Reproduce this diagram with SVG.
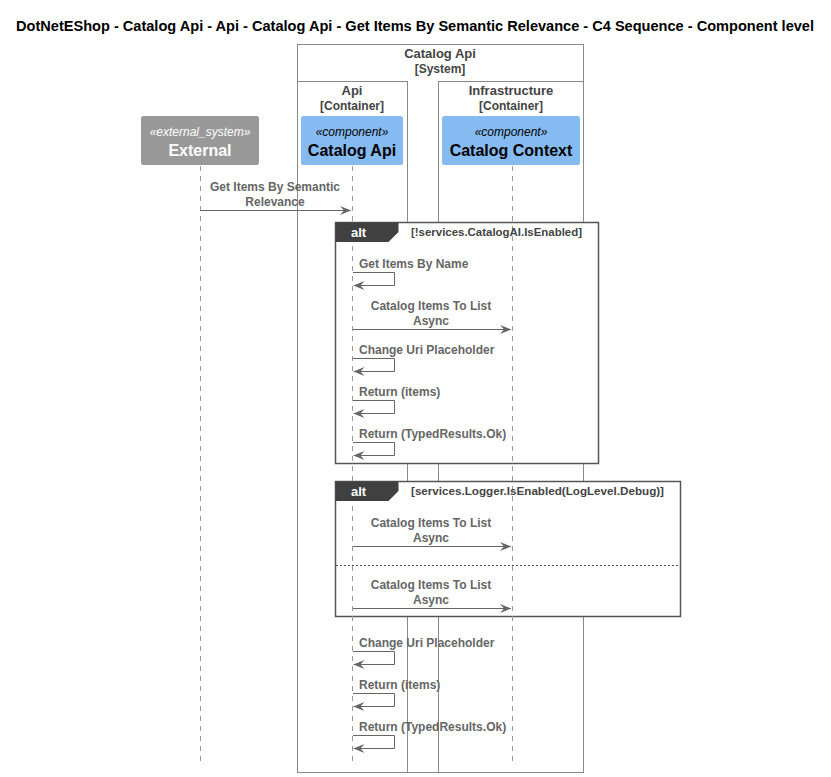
<svg xmlns="http://www.w3.org/2000/svg" width="831" height="777" viewBox="0 0 831 777">
<defs>
<style>
text{font-family:"Liberation Sans",Arial,sans-serif;}
.title{font-size:14px;font-weight:bold;fill:#000;}
.bnd{fill:none;stroke:#8a8a8a;stroke-width:1;}
.bl{font-size:12px;font-weight:bold;fill:#444;text-anchor:middle;}
.bl1{font-size:13px;}
.st{font-size:12px;font-style:italic;text-anchor:middle;}
.nm{font-size:16px;font-weight:bold;text-anchor:middle;}
.life{stroke:#9a9a9a;stroke-width:1;stroke-dasharray:5,5;fill:none;}
.msg{stroke:#666;stroke-width:1;fill:none;}
.ml{font-size:12px;font-weight:bold;fill:#666;}
.mc{text-anchor:middle;}
.frame{fill:#fff;stroke:#555;stroke-width:1.5;}
.tab{fill:#404040;}
.alt{font-size:13px;font-weight:bold;fill:#fff;}
.cond{font-size:11px;font-weight:bold;fill:#444;}
</style>
<marker id="ah" markerWidth="11" markerHeight="9" refX="11" refY="4.5" orient="auto" markerUnits="userSpaceOnUse">
<path d="M0,0 L11,4.5 L0,9 L4,4.5 Z" fill="#666"/>
</marker>
</defs>
<rect width="831" height="777" fill="#fff"/>
<text class="title" x="16" y="31" textLength="798" lengthAdjust="spacingAndGlyphs">DotNetEShop - Catalog Api - Api - Catalog Api - Get Items By Semantic Relevance - C4 Sequence - Component level</text>

<g id="boundary-system">
<rect class="bnd" x="297.5" y="44.5" width="286" height="728"/>
<text class="bl bl1" x="440" y="58">Catalog Api</text>
<text class="bl" x="440" y="73">[System]</text>
</g>
<g id="boundary-api">
<rect class="bnd" x="297.5" y="81.5" width="110" height="691"/>
<text class="bl bl1" x="352" y="95">Api</text>
<text class="bl" x="352" y="110">[Container]</text>
</g>
<g id="boundary-infrastructure">
<rect class="bnd" x="438.5" y="81.5" width="145" height="691"/>
<text class="bl bl1" x="511" y="95">Infrastructure</text>
<text class="bl" x="511" y="110">[Container]</text>
</g>

<g id="frame-bodies">
<rect class="frame" x="335.5" y="222.5" width="263" height="241"/>
<rect class="frame" x="335.5" y="481.5" width="345" height="135"/>
</g>

<g id="lifelines">
<line class="life" x1="200.5" y1="166" x2="200.5" y2="762"/>
<line class="life" x1="352.5" y1="166" x2="352.5" y2="762"/>
<line class="life" x1="512.5" y1="166" x2="512.5" y2="762"/>
</g>

<g id="frame-labels">
<path class="tab" d="M335.5,222.5 H398.5 V232 L388.5,242 H335.5 Z"/>
<text class="alt" x="351" y="237">alt</text>
<text class="cond" x="411" y="236" textLength="171" lengthAdjust="spacingAndGlyphs">[!services.CatalogAI.IsEnabled]</text>
<path class="tab" d="M335.5,481.5 H398.5 V491 L388.5,501 H335.5 Z"/>
<text class="alt" x="351" y="496">alt</text>
<text class="cond" x="411" y="495" textLength="253" lengthAdjust="spacingAndGlyphs">[services.Logger.IsEnabled(LogLevel.Debug)]</text>
<line x1="336" y1="565.5" x2="680" y2="565.5" stroke="#555" stroke-width="1" stroke-dasharray="2,2"/>
</g>

<g id="external">
<rect x="141" y="116" width="118" height="49" rx="2.5" fill="#999"/>
<text class="st" x="200" y="136" fill="#fff">«external_system»</text>
<text class="nm" x="200" y="156" fill="#fff">External</text>
</g>
<g id="catalog-api">
<rect x="301" y="116" width="102" height="49" rx="2.5" fill="#85bbf0"/>
<text class="st" x="352" y="136" fill="#000">«component»</text>
<text class="nm" x="352" y="156" fill="#000">Catalog Api</text>
</g>
<g id="catalog-context">
<rect x="442" y="116" width="138" height="49" rx="2.5" fill="#85bbf0"/>
<text class="st" x="511" y="136" fill="#000">«component»</text>
<text class="nm" x="511" y="156" fill="#000">Catalog Context</text>
</g>

<g id="connectors">
<text class="ml mc" x="275" y="191">Get Items By Semantic</text>
<text class="ml mc" x="275" y="206">Relevance</text>
<line class="msg" x1="200" y1="210.5" x2="351" y2="210.5" marker-end="url(#ah)"/>

<text class="ml" x="359" y="268">Get Items By Name</text>
<path class="msg" d="M353,272.5 H394.5 V285.5 H353.5" marker-end="url(#ah)"/>

<text class="ml mc" x="431" y="310">Catalog Items To List</text>
<text class="ml mc" x="431" y="325">Async</text>
<line class="msg" x1="353" y1="329.5" x2="511" y2="329.5" marker-end="url(#ah)"/>

<text class="ml" x="359" y="354">Change Uri Placeholder</text>
<path class="msg" d="M353,358.5 H394.5 V371.5 H353.5" marker-end="url(#ah)"/>

<text class="ml" x="359" y="396">Return (items)</text>
<path class="msg" d="M353,400.5 H394.5 V413.5 H353.5" marker-end="url(#ah)"/>

<text class="ml" x="359" y="438">Return (TypedResults.Ok)</text>
<path class="msg" d="M353,442.5 H394.5 V455.5 H353.5" marker-end="url(#ah)"/>

<text class="ml mc" x="431" y="527">Catalog Items To List</text>
<text class="ml mc" x="431" y="542">Async</text>
<line class="msg" x1="353" y1="546.5" x2="511" y2="546.5" marker-end="url(#ah)"/>

<text class="ml mc" x="431" y="589">Catalog Items To List</text>
<text class="ml mc" x="431" y="604">Async</text>
<line class="msg" x1="353" y1="608.5" x2="511" y2="608.5" marker-end="url(#ah)"/>

<text class="ml" x="359" y="647">Change Uri Placeholder</text>
<path class="msg" d="M353,651.5 H394.5 V664.5 H353.5" marker-end="url(#ah)"/>

<text class="ml" x="359" y="689">Return (items)</text>
<path class="msg" d="M353,693.5 H394.5 V706.5 H353.5" marker-end="url(#ah)"/>

<text class="ml" x="359" y="731">Return (TypedResults.Ok)</text>
<path class="msg" d="M353,735.5 H394.5 V748.5 H353.5" marker-end="url(#ah)"/>
</g>
</svg>
